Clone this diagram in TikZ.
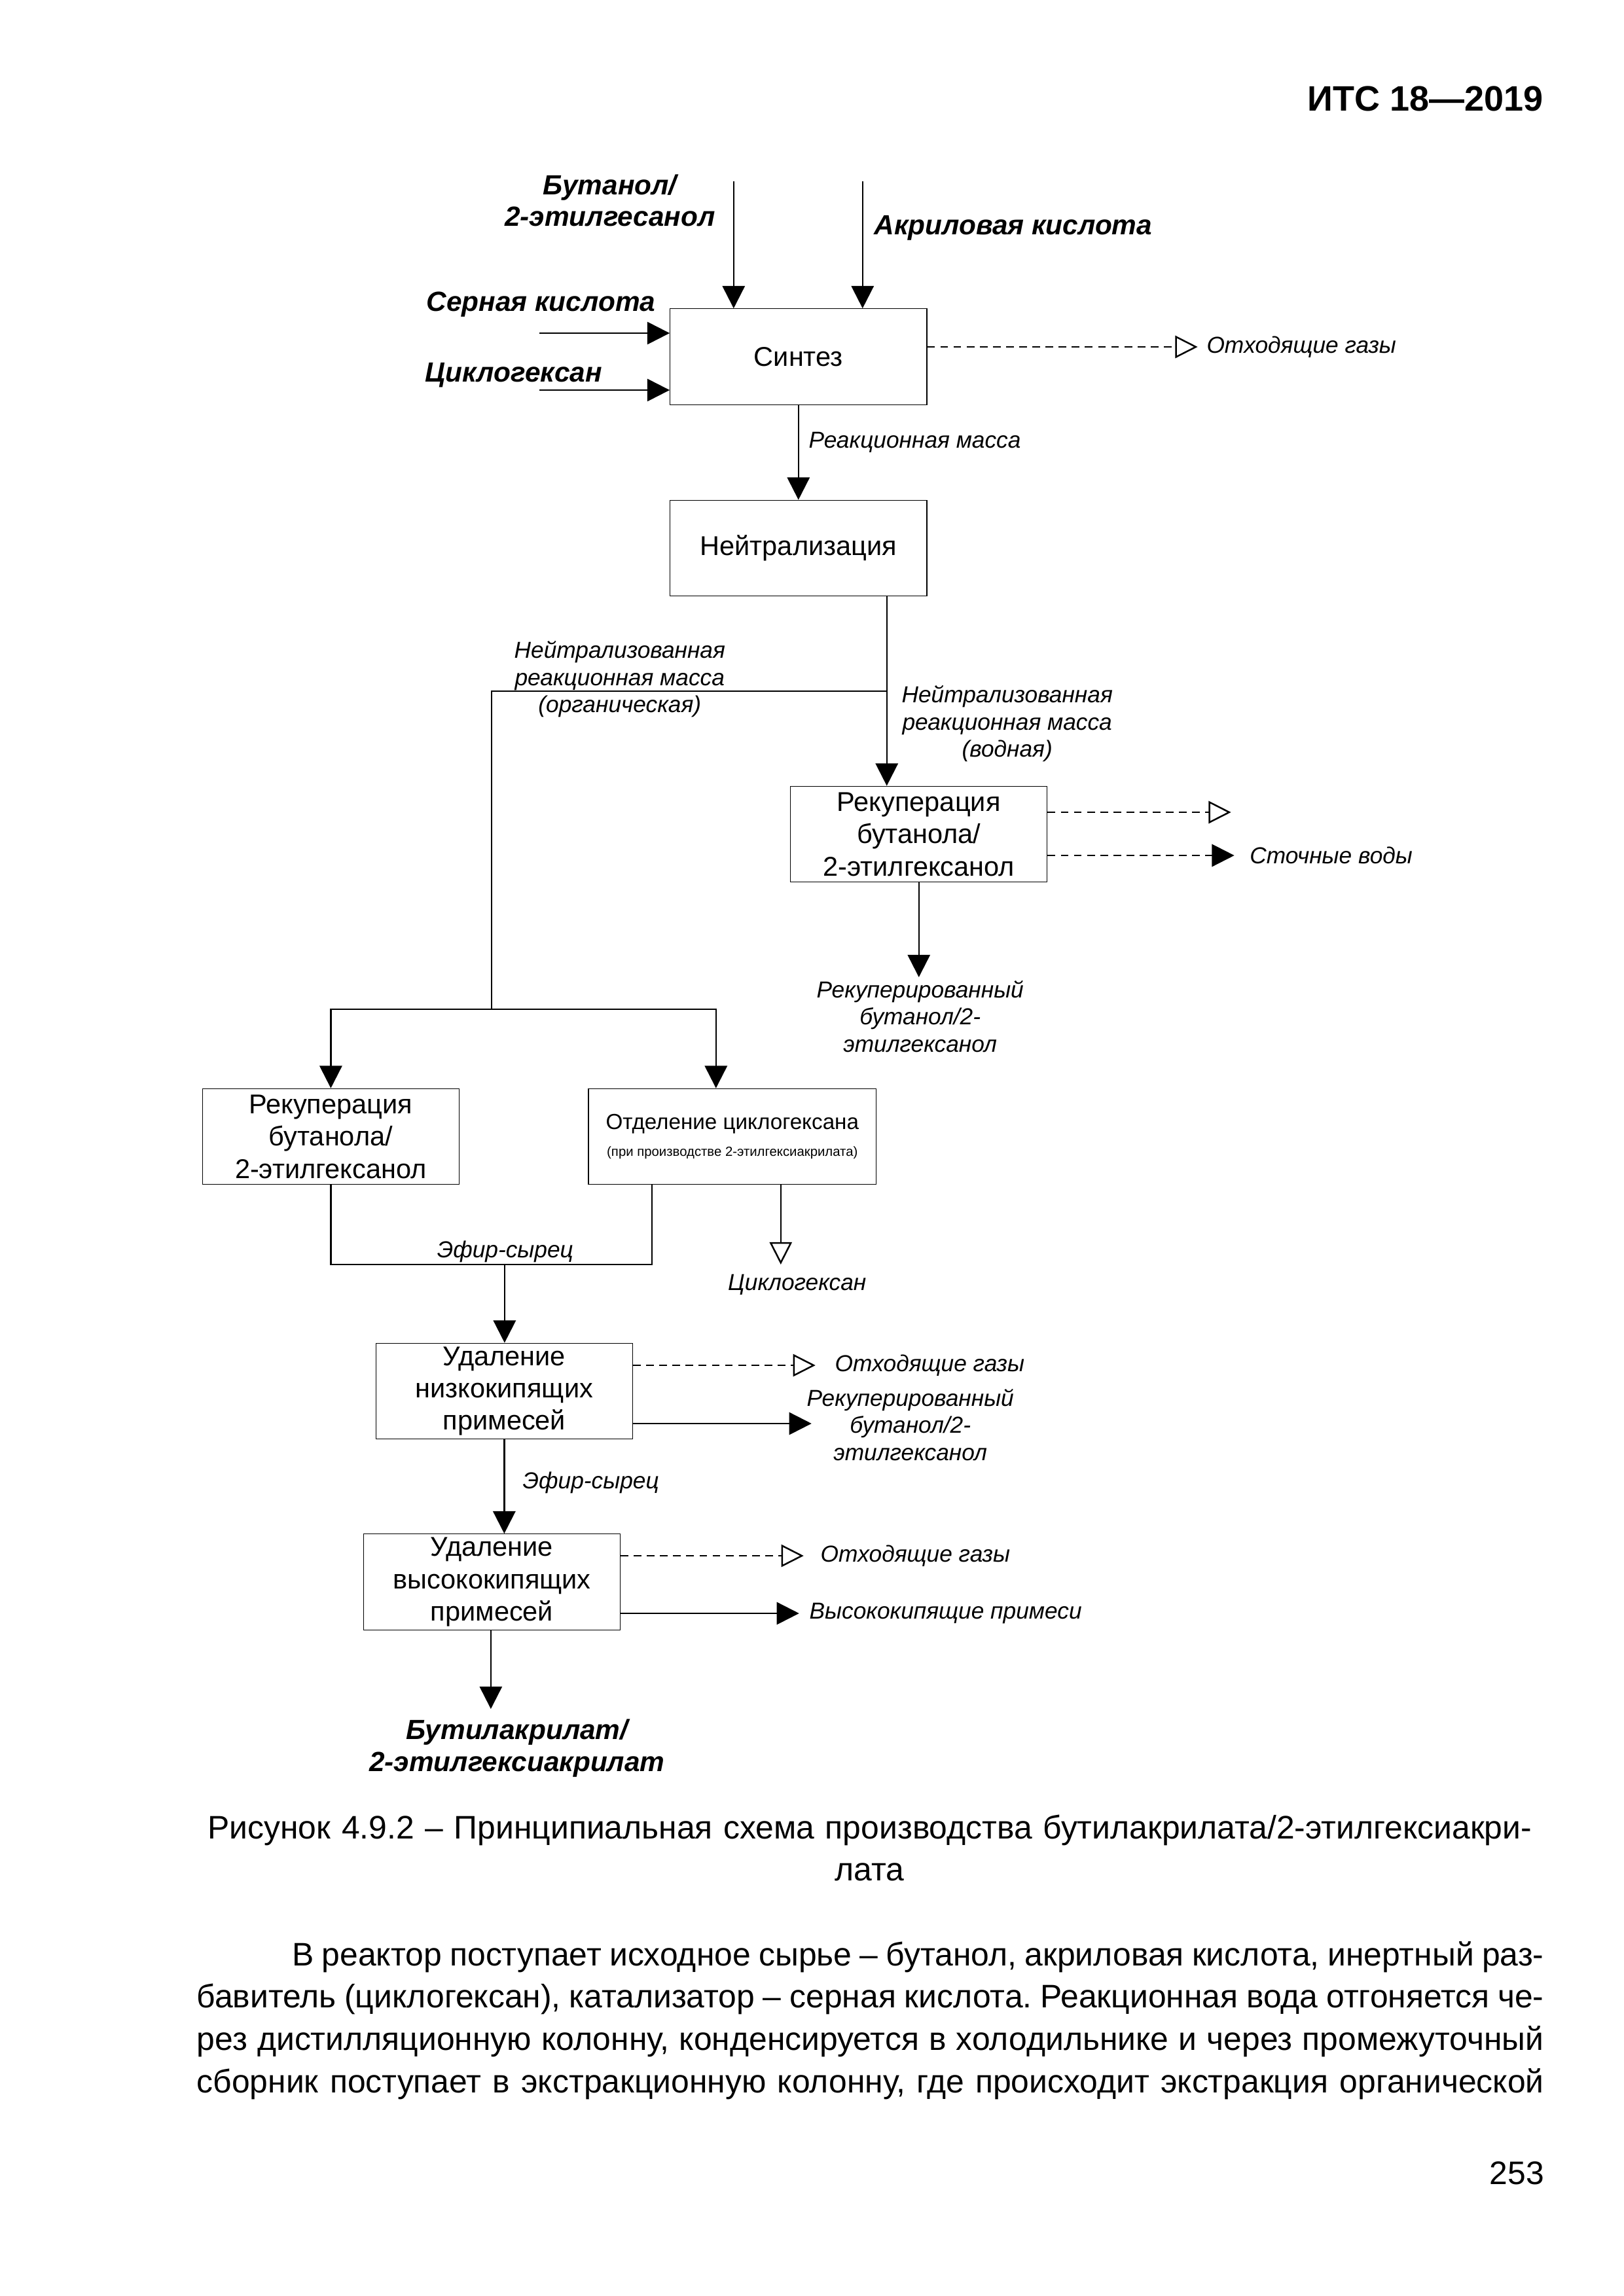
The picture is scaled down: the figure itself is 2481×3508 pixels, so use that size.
\documentclass[tikz,border=0pt]{standalone}
\usepackage{fontspec}
\setmainfont{Liberation Sans}
\usetikzlibrary{arrows.meta, positioning}
\frenchspacing

\newlength\bodyw
\setlength\bodyw{174.2mm}
\newcommand\justline[1]{{\spaceskip=0pt\xspaceskip=0pt\makebox[\bodyw][s]{#1}}}

\tikzset{
	procnode/.style={
			draw=black,
			line width=0.3pt,
			fill=white,
			minimum width=33.2mm,
			minimum height=12.4mm,
			inner sep=0pt,
			align=center,
			font=\fontsize{10}{11.9}\selectfont
		},
	sepnode/.style={
			procnode,
			minimum width=37.2mm,
			font=\fontsize{8}{10}\selectfont
		},
	flowlabel/.style={
			inner sep=0pt,
			align=center,
			font=\fontsize{8.5}{10}\selectfont\itshape
		},
	feedlabel/.style={
			inner sep=0pt,
			align=center,
			font=\fontsize{10.2}{11.5}\selectfont\bfseries\itshape
		},
	pagetext/.style={
			inner sep=0pt,
			font=\fontsize{12}{15.6}\selectfont
		},
	flowline/.style={line width=0.6pt, -{Triangle[length=2.9mm, width=2.9mm]}},
	openline/.style={line width=0.6pt, -{Triangle[open, length=2.9mm, width=2.9mm]}},
	pipeline/.style={line width=0.6pt},
	gasline/.style={line width=0.6pt, dash pattern=on 1mm off 0.7mm, -{Triangle[open, length=2.9mm, width=2.9mm]}},
	wasteline/.style={line width=0.6pt, dash pattern=on 1mm off 0.7mm, -{Triangle[length=2.9mm, width=2.9mm]}}
}

\begin{document}
\begin{tikzpicture}[x=0.08464mm, y=-0.08466mm]
\fill[white] (0,0) rectangle (2481,3508);
\useasboundingbox (0,0) rectangle (2481,3508);

    \node[pagetext, font=\fontsize{13}{15}\selectfont\bfseries, anchor=base east] (hdr) at (2359,169) {ИТС 18—2019};

    % process units
    \node[procnode] (synth) at (1220,545) {Синтез};
    \node[procnode] (neutr) at (1220,837.5) {Нейтрализация};
    \node[procnode] (rec1) at (1404,1274.5) {Рекуперация\\бутанола/\\2-этилгексанол};
    \node[procnode] (rec2) at (505.5,1736.5) {Рекуперация\\бутанола/\\2-этилгексанол};
    \node[sepnode] (sep) at (1119,1736.5) {Отделение циклогексана\\{\fontsize{4.9}{6}\selectfont (при производстве 2-этилгексиакрилата)}};
    \node[procnode] (low) at (770.5,2125.5) {Удаление\\низкокипящих\\примесей};
    \node[procnode] (high) at (751.5,2417) {Удаление\\высококипящих\\примесей};

    % feeds
    \coordinate (butin) at (1121,277);
    \coordinate (acrin) at (1318,277);
    \coordinate (sulfin) at (824,509);
    \coordinate (cyclin) at (824,596);
    \node[feedlabel] (butlbl) at (932,306) {Бутанол/\\2-этилгесанол};
    \node[feedlabel, anchor=west] (acrlbl) at (1335,348) {Акриловая кислота};
    \node[feedlabel, anchor=west] (sulflbl) at (651,465) {Серная кислота};
    \node[feedlabel, anchor=west] (cycllbl) at (649,573) {Циклогексан};

    \draw[flowline] (butin) -- (butin |- synth.north);
    \draw[flowline] (acrin) -- (acrin |- synth.north);
    \draw[flowline] (sulfin) -- (sulfin -| synth.west);
    \draw[flowline] (cyclin) -- (cyclin -| synth.west);

    \coordinate (vent1) at (1830,530);
    \draw[gasline] (vent1 -| synth.east) -- (vent1);
    \node[flowlabel, anchor=west] (vent1lbl) at (1843,530) {Отходящие газы};

    \draw[flowline] (synth.south) -- (neutr.north);
    \node[flowlabel, anchor=west] (rmlbl) at (1235,676) {Реакционная масса};

    % split after neutralisation
    \coordinate (split) at (1355,1056);
    \coordinate (orgturn) at (751,1056);
    \coordinate (orgfork) at (751,1542);
    \coordinate (sepin) at (1094,1542);
    \draw[flowline] (split |- neutr.south) -- (split |- rec1.north);
    \draw[pipeline] (split) -- (orgturn) -- (orgfork);
    \draw[flowline] (orgfork) -| (rec2.north);
    \draw[flowline] (orgfork) -| (sepin |- sep.north);
    \node[flowlabel] (orglbl) at (947,1038) {Нейтрализованная\\реакционная масса\\(органическая)};
    \node[flowlabel] (aqlbl) at (1539,1106) {Нейтрализованная\\реакционная масса\\(водная)};

    \coordinate (vent2) at (1881,1241);
    \coordinate (ww) at (1886,1307);
    \draw[gasline] (vent2 -| rec1.east) -- (vent2);
    \draw[wasteline] (ww -| rec1.east) -- (ww);
    \node[flowlabel, anchor=west] (wwlbl) at (1909,1307) {Сточные воды};

    \coordinate (recout1) at (1404,1493);
    \draw[flowline] (rec1.south) -- (recout1);
    \node[flowlabel] (recout1lbl) at (1406,1553) {Рекуперированный\\бутанол/2-\\этилгексанол};

    % crude ester
    \coordinate (crude) at (771,1932);
    \coordinate (sepcrude) at (996,1932);
    \draw[pipeline] (rec2.south) |- (crude) -- (sepcrude) -- (sepcrude |- sep.south);
    \draw[flowline] (crude) -- (crude |- low.north);
    \node[flowlabel] (crude1lbl) at (772,1912) {Эфир-сырец};

    \coordinate (cycout) at (1193,1932);
    \draw[openline] (cycout |- sep.south) -- (cycout);
    \node[flowlabel] (cycoutlbl) at (1218,1963) {Циклогексан};

    % light ends
    \coordinate (vent3) at (1246,2086);
    \draw[gasline] (vent3 -| low.east) -- (vent3);
    \node[flowlabel, anchor=west] (vent3lbl) at (1275,2086) {Отходящие газы};
    \coordinate (recout2) at (1240,2175);
    \draw[flowline] (recout2 -| low.east) -- (recout2);
    \node[flowlabel] (recout2lbl) at (1391,2177) {Рекуперированный\\бутанол/2-\\этилгексанол};

    \draw[flowline] (low.south) -- (low.south |- high.north);
    \node[flowlabel, anchor=west] (crude2lbl) at (798,2265) {Эфир-сырец};

    % heavy ends
    \coordinate (vent4) at (1228,2377);
    \draw[gasline] (vent4 -| high.east) -- (vent4);
    \node[flowlabel, anchor=west] (vent4lbl) at (1253,2377) {Отходящие газы};
    \coordinate (heavy) at (1221,2465);
    \draw[flowline] (heavy -| high.east) -- (heavy);
    \node[flowlabel, anchor=west] (heavylbl) at (1236,2465) {Высококипящие примеси};

    \coordinate (prod) at (750,2611);
    \draw[flowline] (prod |- high.south) -- (prod);
    \node[feedlabel, font=\fontsize{10.2}{12}\selectfont\bfseries\itshape] (prodlbl) at (790,2671) {Бутилакрилат/\\2-этилгексиакрилат};

    % caption and text
    \node[pagetext, text width=\bodyw, align=center, anchor=base] (cap) at (1329,2809) {Рисунок 4.9.2 – Принципиальная схема производства бутилакрилата/2-этилгексиакри-\\лата};
    \node[pagetext, text width=\bodyw, align=left, anchor=base west] (para) at (300,3003) {%
\justline{\hspace*{12.3mm}В реактор поступает исходное сырье – бутанол, акриловая кислота, инертный раз-}\\
\justline{бавитель (циклогексан), катализатор – серная кислота. Реакционная вода отгоняется че-}\\
\justline{рез дистилляционную колонну, конденсируется в холодильнике и через промежуточный}\\
\justline{сборник поступает в экстракционную колонну, где происходит экстракция органической}};
    \node[pagetext, anchor=base east] (pgno) at (2360,3337) {253};

\end{tikzpicture}
\end{document}
